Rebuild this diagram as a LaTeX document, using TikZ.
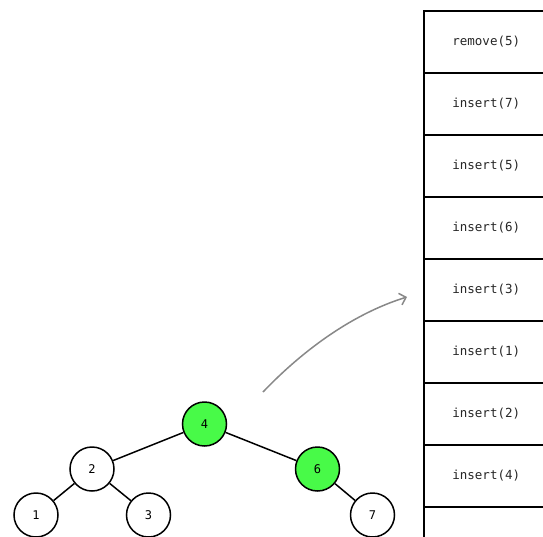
\documentclass[tikz,border=0pt]{standalone}
\usepackage{fontspec}
\setmonofont{DejaVu Sans Mono}
\usetikzlibrary{arrows.meta}
\definecolor{nodegreen}{RGB}{72,250,72}
\definecolor{arrowgray}{RGB}{136,136,136}
\begin{document}
\begin{tikzpicture}[x=1pt,y=-1pt,
  tnode/.style={circle,draw=black,line width=1.5pt,minimum size=44pt,inner sep=0pt,fill=white,font=\ttfamily\fontsize{12}{12}\selectfont},
  hot/.style={fill=nodegreen},
  cell/.style={draw=black,line width=1.5pt,minimum width=125pt,minimum height=62pt,inner sep=0pt,anchor=north west,font=\ttfamily\fontsize{12.5}{13}\selectfont,text=black!85},
  edge/.style={line width=1.5pt,black}]
\useasboundingbox (0,0) rectangle (543,536);
\clip (0,0) rectangle (543,536);
\fill[white] (0,0) rectangle (543,536);
% stack
\node[cell] (s1) at (423,10) {remove(5)};
\node[cell] (s2) at (423,72) {insert(7)};
\node[cell] (s3) at (423,134) {insert(5)};
\node[cell] (s4) at (423,196) {insert(6)};
\node[cell] (s5) at (423,258) {insert(3)};
\node[cell] (s6) at (423,320) {insert(1)};
\node[cell] (s7) at (423,382) {insert(2)};
\node[cell] (s8) at (423,444) {insert(4)};
\node[cell] (s9) at (423,506) {};
% tree
\node[tnode,hot] (n4) at (204.5,424) {4};
\node[tnode] (n2) at (92,469) {2};
\node[tnode,hot] (n6) at (317.5,469) {6};
\node[tnode] (n1) at (36,515) {1};
\node[tnode] (n3) at (148.5,515) {3};
\node[tnode] (n7) at (372.5,515) {7};
\draw[edge] (n4) -- (n2);
\draw[edge] (n4) -- (n6);
\draw[edge] (n2) -- (n1);
\draw[edge] (n2) -- (n3);
\draw[edge] (n6) -- (n7);
% arrow
\coordinate (a0) at (263,392);
\coordinate (a1) at (407,297);
\draw[arrowgray,line width=1.5pt,-{Straight Barb[length=6pt,width=12pt]}] (a0) .. controls (305,348) and (355,313) .. (a1);
\end{tikzpicture}
\end{document}
